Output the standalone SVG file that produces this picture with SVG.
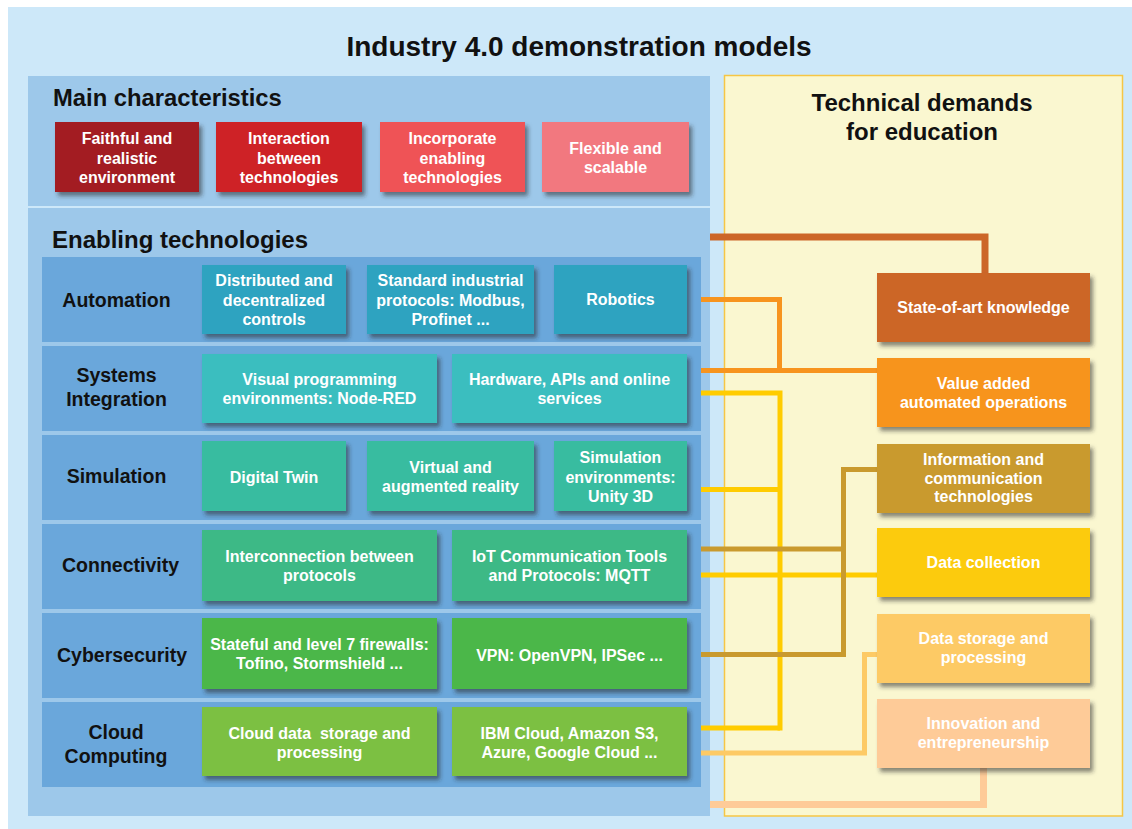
<svg xmlns="http://www.w3.org/2000/svg" width="1132" height="829" viewBox="0 0 1132 829">
  <defs>
    <filter id="shadow" x="-10%" y="-10%" width="125%" height="135%">
      <feDropShadow dx="3" dy="4" stdDeviation="2" flood-color="#2a2a2a" flood-opacity="0.55"/>
    </filter>
    <style>
      text { font-family: "Liberation Sans", Arial, sans-serif; font-weight: bold; }
      .title { font-size: 28px; fill: #111; }
      .head { font-size: 24px; fill: #111; }
      .row-label { font-size: 19.5px; fill: #111; text-anchor: middle; }
      .box text, .demand text, .feature text { font-size: 16px; fill: #fff; text-anchor: middle; }
      .box rect, .demand rect, .feature rect { filter: url(#shadow); }
      .row { fill: #6AA7DB; }
      .wire { fill: none; stroke-linejoin: miter; stroke-linecap: butt; }
    </style>
  </defs>

  <!-- background panels -->
  <rect x="8" y="7" width="1124" height="822" fill="#CDE8F9"/>
  <rect x="28" y="76" width="682" height="130" fill="#9DC8EA"/>
  <rect x="28" y="208" width="682" height="608" fill="#9DC8EA"/>
  <rect x="724.5" y="75.5" width="398" height="740.5" fill="#FAF7D0" stroke="#F6C645" stroke-width="1.5"/>

  <text class="title" x="579" y="56" text-anchor="middle">Industry 4.0 demonstration models</text>
  <text class="head" x="53" y="106" style="font-size:23.8px">Main characteristics</text>
  <text class="head" x="52" y="248">Enabling technologies</text>
  <text class="head" x="922" y="111" text-anchor="middle">Technical demands</text>
  <text class="head" x="922" y="140" text-anchor="middle">for education</text>

  <!-- main characteristics -->
  <g id="feature-faithful" class="feature">
    <rect x="55" y="122" width="144" height="70" fill="#A31C24"/>
    <text x="127" y="144">Faithful and</text>
    <text x="127" y="163.5">realistic</text>
    <text x="127" y="183">environment</text>
  </g>
  <g id="feature-interaction" class="feature">
    <rect x="216" y="122" width="146" height="70" fill="#CE2028"/>
    <text x="289" y="144">Interaction</text>
    <text x="289" y="163.5">between</text>
    <text x="289" y="183">technologies</text>
  </g>
  <g id="feature-incorporate" class="feature">
    <rect x="380" y="122" width="145" height="70" fill="#EF5257"/>
    <text x="452.5" y="144">Incorporate</text>
    <text x="452.5" y="163.5">enabling</text>
    <text x="452.5" y="183">technologies</text>
  </g>
  <g id="feature-flexible" class="feature">
    <rect x="542" y="122" width="147" height="70" fill="#F2787F"/>
    <text x="615.5" y="154">Flexible and</text>
    <text x="615.5" y="173">scalable</text>
  </g>

  <!-- technology rows -->
  <rect class="row" x="42" y="257" width="659" height="85"/>
  <rect class="row" x="42" y="346" width="659" height="85"/>
  <rect class="row" x="42" y="435" width="659" height="85"/>
  <rect class="row" x="42" y="524" width="659" height="85"/>
  <rect class="row" x="42" y="613" width="659" height="85"/>
  <rect class="row" x="42" y="702" width="659" height="85"/>

  <text class="row-label" x="116.5" y="307">Automation</text>
  <text class="row-label" x="116.5" y="382">Systems</text>
  <text class="row-label" x="116.5" y="406">Integration</text>
  <text class="row-label" x="116.5" y="483">Simulation</text>
  <text class="row-label" x="120.5" y="572">Connectivity</text>
  <text class="row-label" x="122" y="662">Cybersecurity</text>
  <text class="row-label" x="116" y="739">Cloud</text>
  <text class="row-label" x="116" y="763">Computing</text>

  <!-- connectors -->
  <g id="connectors" class="wire">
    <path d="M710,237 H985 V273" stroke="#CC6628" stroke-width="7"/>
    <path d="M701,299.5 H779.5 V373" stroke="#F7941E" stroke-width="5"/>
    <path d="M701,370.5 H877" stroke="#F7941E" stroke-width="5"/>
    <path d="M701,393 H780 V730.5" stroke="#FFCC00" stroke-width="5"/>
    <path d="M701,489.5 H780" stroke="#FFCC00" stroke-width="5"/>
    <path d="M701,575 H877" stroke="#FFCC00" stroke-width="5"/>
    <path d="M701,728 H780" stroke="#FFCC00" stroke-width="5"/>
    <path d="M877,469.5 H843.5 V654.5 H701" stroke="#C99A2E" stroke-width="5"/>
    <path d="M701,549 H843.5" stroke="#C99A2E" stroke-width="5"/>
    <path d="M877,654.5 H864.5 V753 H701" stroke="#FDCA65" stroke-width="5"/>
    <path d="M983.5,768 V804.5 H710" stroke="#FECB98" stroke-width="7"/>
  </g>

  <!-- automation -->
  <g id="tech-distributed" class="box">
    <rect x="202" y="265" width="144" height="69" fill="#2DA3C0"/>
    <text x="274" y="286">Distributed and</text>
    <text x="274" y="305.5">decentralized</text>
    <text x="274" y="325">controls</text>
  </g>
  <g id="tech-protocols" class="box">
    <rect x="367" y="265" width="167" height="69" fill="#2DA3C0"/>
    <text x="450.5" y="286">Standard industrial</text>
    <text x="450.5" y="305.5">protocols: Modbus,</text>
    <text x="450.5" y="325">Profinet ...</text>
  </g>
  <g id="tech-robotics" class="box">
    <rect x="554" y="265" width="133" height="69" fill="#2DA3C0"/>
    <text x="620.5" y="305">Robotics</text>
  </g>

  <!-- systems integration -->
  <g id="tech-node-red" class="box">
    <rect x="202" y="354" width="235" height="69" fill="#3ABEBF"/>
    <text x="319.5" y="384.5">Visual programming</text>
    <text x="319.5" y="404">environments: Node-RED</text>
  </g>
  <g id="tech-apis" class="box">
    <rect x="452" y="354" width="235" height="69" fill="#3ABEBF"/>
    <text x="569.5" y="384.5">Hardware, APIs and online</text>
    <text x="569.5" y="404">services</text>
  </g>

  <!-- simulation -->
  <g id="tech-twin" class="box">
    <rect x="202" y="441" width="144" height="70" fill="#37BCA0"/>
    <text x="274" y="483">Digital Twin</text>
  </g>
  <g id="tech-vr" class="box">
    <rect x="367" y="441" width="167" height="70" fill="#37BCA0"/>
    <text x="450.5" y="473">Virtual and</text>
    <text x="450.5" y="492">augmented reality</text>
  </g>
  <g id="tech-unity" class="box">
    <rect x="554" y="441" width="133" height="70" fill="#37BCA0"/>
    <text x="620.5" y="463">Simulation</text>
    <text x="620.5" y="483">environments:</text>
    <text x="620.5" y="502">Unity 3D</text>
  </g>

  <!-- connectivity -->
  <g id="tech-interconnection" class="box">
    <rect x="202" y="530" width="235" height="71" fill="#3CB986"/>
    <text x="319.5" y="562">Interconnection between</text>
    <text x="319.5" y="581">protocols</text>
  </g>
  <g id="tech-mqtt" class="box">
    <rect x="452" y="530" width="235" height="71" fill="#3CB986"/>
    <text x="569.5" y="562">IoT Communication Tools</text>
    <text x="569.5" y="581">and Protocols: MQTT</text>
  </g>

  <!-- cybersecurity -->
  <g id="tech-firewalls" class="box">
    <rect x="202" y="618" width="235" height="71" fill="#4BB749"/>
    <text x="319.5" y="650">Stateful and level 7 firewalls:</text>
    <text x="319.5" y="669">Tofino, Stormshield ...</text>
  </g>
  <g id="tech-vpn" class="box">
    <rect x="452" y="618" width="235" height="71" fill="#4BB749"/>
    <text x="569.5" y="661">VPN: OpenVPN, IPSec ...</text>
  </g>

  <!-- cloud computing -->
  <g id="tech-cloud-storage" class="box">
    <rect x="202" y="707" width="235" height="69" fill="#7CC043"/>
    <text x="319.5" y="739" xml:space="preserve">Cloud data  storage and</text>
    <text x="319.5" y="758">processing</text>
  </g>
  <g id="tech-cloud-providers" class="box">
    <rect x="452" y="707" width="235" height="69" fill="#7CC043"/>
    <text x="569.5" y="739">IBM Cloud, Amazon S3,</text>
    <text x="569.5" y="758">Azure, Google Cloud ...</text>
  </g>

  <!-- technical demands -->
  <g id="demand-state-of-art" class="demand">
    <rect x="877" y="273" width="213" height="69" fill="#CC6628"/>
    <text x="983.5" y="313">State-of-art knowledge</text>
  </g>
  <g id="demand-value-added" class="demand">
    <rect x="877" y="358" width="213" height="69" fill="#F7941E"/>
    <text x="983.5" y="389">Value added</text>
    <text x="983.5" y="408">automated operations</text>
  </g>
  <g id="demand-ict" class="demand">
    <rect x="877" y="444" width="213" height="69" fill="#C99A2E"/>
    <text x="983.5" y="465">Information and</text>
    <text x="983.5" y="483.5">communication</text>
    <text x="983.5" y="502">technologies</text>
  </g>
  <g id="demand-data-collection" class="demand">
    <rect x="877" y="528" width="213" height="69" fill="#FCCB0C"/>
    <text x="983.5" y="568">Data collection</text>
  </g>
  <g id="demand-data-storage" class="demand">
    <rect x="877" y="614" width="213" height="69" fill="#FDCA65"/>
    <text x="983.5" y="644">Data storage and</text>
    <text x="983.5" y="663">processing</text>
  </g>
  <g id="demand-innovation" class="demand">
    <rect x="877" y="699" width="213" height="69" fill="#FECB98"/>
    <text x="983.5" y="729">Innovation and</text>
    <text x="983.5" y="748">entrepreneurship</text>
  </g>
</svg>
